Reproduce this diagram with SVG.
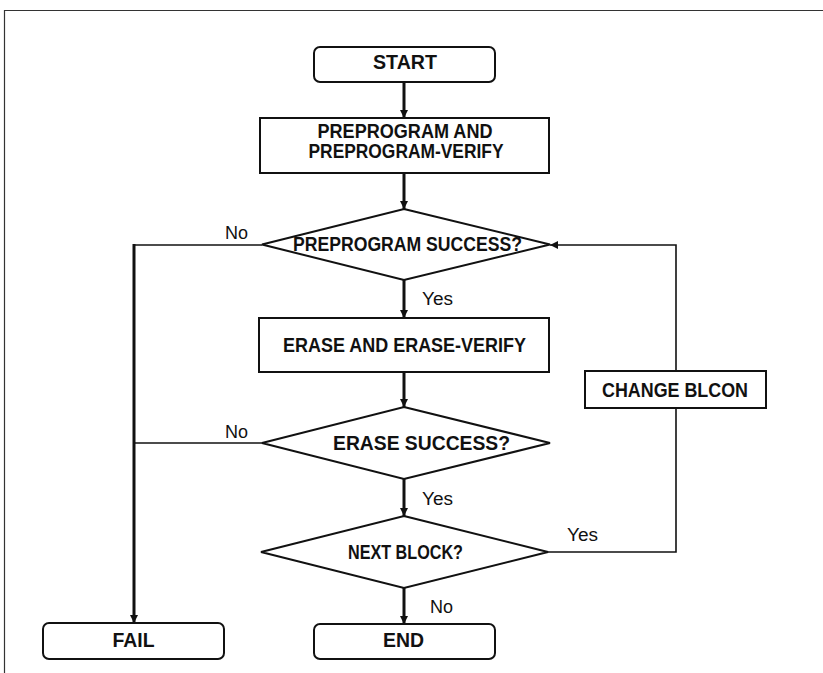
<svg xmlns="http://www.w3.org/2000/svg" width="823" height="673" viewBox="0 0 823 673">
  <defs>
    <marker id="arrow" viewBox="0 0 10 10" refX="10" refY="5" markerWidth="8" markerHeight="8" markerUnits="userSpaceOnUse" orient="auto">
      <path d="M0,0 L10,5 L0,10 Z" fill="#111"/>
    </marker>
  </defs>
  <style>
    .frame { fill: none; stroke: #333; stroke-width: 1.2; }
    .node { fill: #fff; stroke: #111; stroke-width: 2; }
    .title { font-family: "Liberation Sans", Arial, sans-serif; font-weight: bold; font-size: 20px; fill: #111; text-anchor: middle; }
    .label { font-family: "Liberation Sans", Arial, sans-serif; font-size: 18px; fill: #111; }
    .main { fill: none; stroke: #111; stroke-width: 3; }
    .side { fill: none; stroke: #111; stroke-width: 1.6; }
  </style>
  <rect width="823" height="673" fill="#fff"/>
  <path class="frame" d="M4.5,673 V10.5 H823"/>

  <g id="connectors">
    <path class="main" d="M404,82 V118" marker-end="url(#arrow)"/>
    <path class="main" d="M404,173 V209" marker-end="url(#arrow)"/>
    <path class="main" d="M404,280 V318" marker-end="url(#arrow)"/>
    <path class="main" d="M404,372 V407" marker-end="url(#arrow)"/>
    <path class="main" d="M404,479 V516" marker-end="url(#arrow)"/>
    <path class="main" d="M404,588 V624" marker-end="url(#arrow)"/>
    <path class="side" d="M262,245 H134"/>
    <path class="side" d="M262,443 H134"/>
    <path class="main" d="M134,244 V623" marker-end="url(#arrow)"/>
    <path class="side" d="M548,552 H676 V408"/>
    <path class="side" d="M676,371 V245 H550" marker-end="url(#arrow)"/>
    <text class="label" x="225" y="239" textLength="23" lengthAdjust="spacingAndGlyphs">No</text>
    <text class="label" x="422" y="305" textLength="31" lengthAdjust="spacingAndGlyphs">Yes</text>
    <text class="label" x="225" y="438" textLength="23" lengthAdjust="spacingAndGlyphs">No</text>
    <text class="label" x="422" y="505" textLength="31" lengthAdjust="spacingAndGlyphs">Yes</text>
    <text class="label" x="567" y="541" textLength="31" lengthAdjust="spacingAndGlyphs">Yes</text>
    <text class="label" x="430" y="613" textLength="23" lengthAdjust="spacingAndGlyphs">No</text>
  </g>

  <g id="start">
    <rect class="node" x="314" y="47" width="181" height="35" rx="6"/>
    <text class="title" x="405" y="68.5" textLength="64" lengthAdjust="spacingAndGlyphs">START</text>
  </g>
  <g id="preprogram">
    <rect class="node" x="260" y="118" width="289" height="55"/>
    <text class="title" x="405" y="138" textLength="175" lengthAdjust="spacingAndGlyphs">PREPROGRAM AND</text>
    <text class="title" x="406" y="158" textLength="195" lengthAdjust="spacingAndGlyphs">PREPROGRAM-VERIFY</text>
  </g>
  <g id="preprogram-success">
    <path class="node" d="M404,209 L550,244.5 L404,280 L262,244.5 Z"/>
    <text class="title" x="407.5" y="250.5" textLength="229" lengthAdjust="spacingAndGlyphs">PREPROGRAM SUCCESS?</text>
  </g>
  <g id="erase">
    <rect class="node" x="259" y="318" width="290" height="54"/>
    <text class="title" x="404.5" y="352" textLength="243" lengthAdjust="spacingAndGlyphs">ERASE AND ERASE-VERIFY</text>
  </g>
  <g id="erase-success">
    <path class="node" d="M404,407 L550,443 L404,479 L262,443 Z"/>
    <text class="title" x="421.5" y="450" textLength="177" lengthAdjust="spacingAndGlyphs">ERASE SUCCESS?</text>
  </g>
  <g id="next-block">
    <path class="node" d="M404,516 L548,552 L404,588 L261,552 Z"/>
    <text class="title" x="405.5" y="558.5" textLength="115" lengthAdjust="spacingAndGlyphs">NEXT BLOCK?</text>
  </g>
  <g id="change-blcon">
    <rect class="node" x="585" y="371" width="181" height="37"/>
    <text class="title" x="675" y="397" textLength="146" lengthAdjust="spacingAndGlyphs">CHANGE BLCON</text>
  </g>
  <g id="fail">
    <rect class="node" x="43" y="623" width="181" height="36" rx="6"/>
    <text class="title" x="133.5" y="647" textLength="42" lengthAdjust="spacingAndGlyphs">FAIL</text>
  </g>
  <g id="end">
    <rect class="node" x="314" y="624" width="181" height="35" rx="6"/>
    <text class="title" x="403.5" y="647" textLength="41" lengthAdjust="spacingAndGlyphs">END</text>
  </g>
</svg>
